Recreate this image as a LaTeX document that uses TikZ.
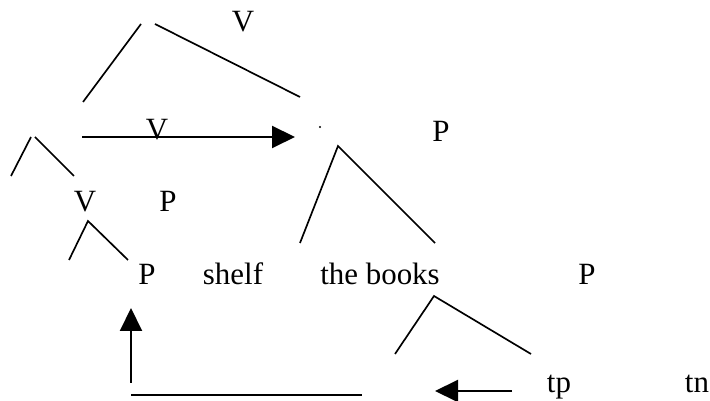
\documentclass[tikz,border=0pt]{standalone}
\usepackage{fontspec}
\setmainfont{Liberation Serif}
\usetikzlibrary{arrows.meta}
\tikzset{
  lbl/.style={font=\fontsize{17.6}{20}\selectfont,inner sep=0pt,anchor=base},
  brn/.style={line width=0.95pt},
  arr/.style={-{Triangle[length=0.46cm,width=0.44cm]},line width=1.15pt},
  dotnode/.style={circle,fill,inner sep=0pt,minimum size=1.4pt}
}

\begin{document}
\begin{tikzpicture}[x=0.02cm,y=-0.02cm]
  \useasboundingbox (0,0) rectangle (710,401);

  % labels
  \node[lbl] (vtop) at (243,32) {V};
  \node[lbl] (vmove) at (157,140) {V};
  \node[lbl] (ptop) at (441,142) {P};
  \node[dotnode] (dot) at (320,127) {};
  \node[lbl] (vlow) at (85,212) {V};
  \node[lbl] (pmid) at (168,212) {P};
  \node[lbl] (pleft) at (147,285) {P};
  \node[lbl] (shelf) at (233,285) {shelf};
  \node[lbl] (books) at (380,285) {the books};
  \node[lbl] (pright) at (587,285) {P};
  \node[lbl] (tp) at (559,393) {tp};
  \node[lbl] (tn) at (697,393) {tn};

  % branch ends
  \coordinate (t1) at (141,24);  \coordinate (t2) at (83,102);
  \coordinate (t3) at (155,24);  \coordinate (t4) at (300,97);
  \coordinate (m1) at (31,137);  \coordinate (m2) at (11,176);
  \coordinate (m3) at (35,137);  \coordinate (m4) at (74,176);
  \coordinate (v0) at (88,221);  \coordinate (v1) at (69,260);
  \coordinate (v2) at (128,260);
  \coordinate (r0) at (338,146); \coordinate (r1) at (300,243);
  \coordinate (r2) at (435,243);
  \coordinate (l0) at (434,296); \coordinate (l1) at (395,354);
  \coordinate (l2) at (531,354);

  \draw[brn] (t1) -- (t2);
  \draw[brn] (t3) -- (t4);
  \draw[brn] (m1) -- (m2);
  \draw[brn] (m3) -- (m4);
  \draw[brn] (v1) -- (v0) -- (v2);
  \draw[brn] (r1) -- (r0) -- (r2);
  \draw[brn] (l1) -- (l0) -- (l2);

  % movement arrows
  \coordinate (hs) at (82,137);  \coordinate (he) at (295,137);
  \coordinate (us) at (131,383); \coordinate (ue) at (131,308);
  \coordinate (bs) at (131,395); \coordinate (be) at (362,395);
  \coordinate (ls) at (512,391); \coordinate (le) at (435,391);

  \draw[arr] (hs) -- (he);
  \draw[arr] (us) -- (ue);
  \draw[line width=1.15pt] (bs) -- (be);
  \draw[arr] (ls) -- (le);
\end{tikzpicture}
\end{document}
